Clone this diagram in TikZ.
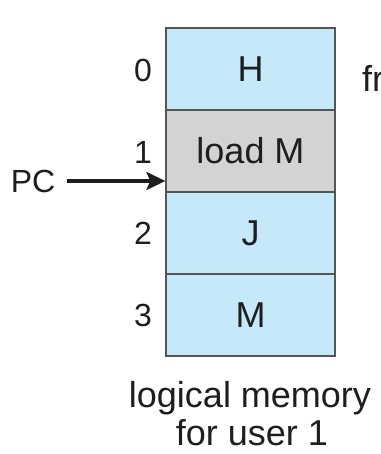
\documentclass[tikz,border=0pt]{standalone}
\usepackage{fontspec}
\setmainfont{Liberation Sans}
\usetikzlibrary{arrows.meta}
\definecolor{lblue}{RGB}{198,233,249}
\definecolor{lgray}{RGB}{211,211,211}
\definecolor{edge}{RGB}{85,85,85}
\definecolor{ink}{RGB}{30,30,30}
\begin{document}
\begin{tikzpicture}[x=1pt,y=1pt,
  cell/.style={draw=edge, line width=1.3pt, minimum width=169pt, minimum height=82pt, inner sep=0pt, text=ink, font=\fontsize{36}{40}\selectfont},
  num/.style={text=ink, inner sep=0pt, font=\fontsize{32}{36}\selectfont},
  lbl/.style={text=ink, inner sep=0pt, font=\fontsize{36}{40}\selectfont},
  parrow/.style={ink, line width=3.2pt, -{Stealth[length=19pt,width=18pt,inset=4pt]}}]
\useasboundingbox (0,0) rectangle (380,454);
\fill[white] (0,0) rectangle (380,454);
\node[cell, fill=lblue] (r0) at (250.5,385) {H};
\node[cell, fill=lgray] (r1) at (250.5,303) {load M};
\node[cell, fill=lblue] (r2) at (250.5,221) {J};
\node[cell, fill=lblue] (r3) at (250.5,139) {M};
\node[num] (n0) at (143,384) {0};
\node[num] (n1) at (143,302) {1};
\node[num] (n2) at (143,221) {2};
\node[num] (n3) at (143,139) {3};
\node[num, inner sep=2pt] (pc) at (33,273) {PC};
\draw[parrow] ([xshift=10pt]pc.east) -- (pc.east -| r1.west);
\node[lbl, anchor=base west] (fr) at (362,362) {fr};
\node[lbl, anchor=base] (t1) at (250,46) {logical memory};
\node[lbl, anchor=base] (t2) at (252,9) {for user 1};
\end{tikzpicture}
\end{document}
